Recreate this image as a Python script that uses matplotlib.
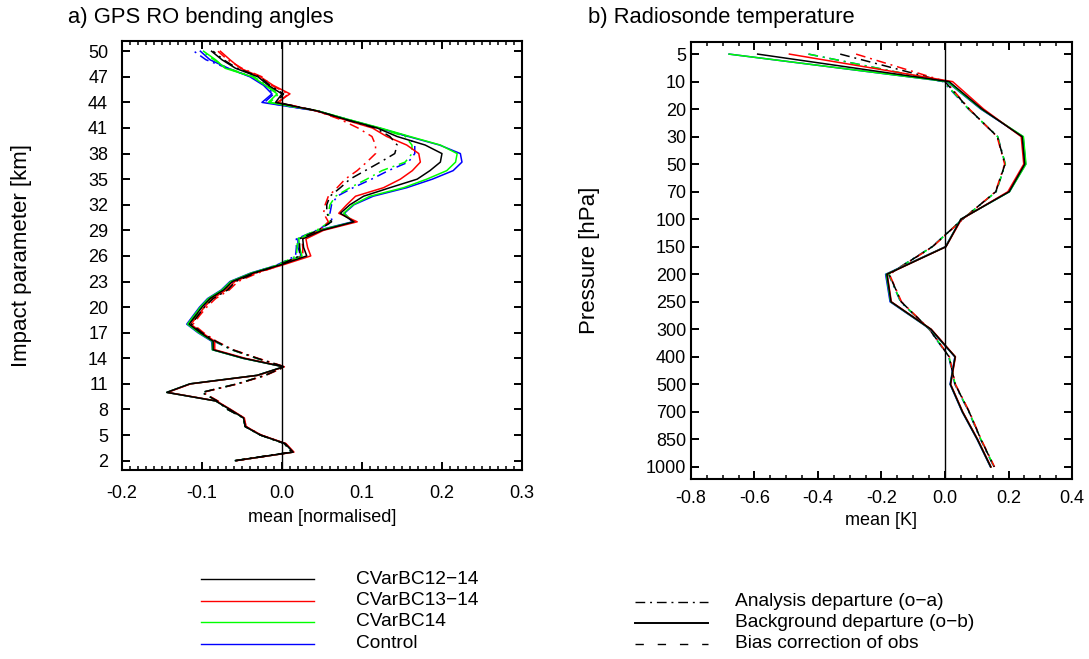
import numpy as np
import matplotlib
matplotlib.use("Agg")
import matplotlib.pyplot as plt
from matplotlib.ticker import MultipleLocator, FormatStrFormatter

plt.rcParams['font.family'] = ['Liberation Sans', 'DejaVu Sans']
plt.rcParams['lines.scale_dashes'] = False

# ---- panel a: GPS RO bending angles, impact parameter 2..50 km ----
impact_km = np.arange(2, 51)

ob_12_14 = [-0.058, 0.014, 0.004, -0.027, -0.046, -0.048, -0.065, -0.083, -0.144, -0.115,
            -0.031, 0.002, -0.048, -0.086, -0.086, -0.102, -0.116, -0.108, -0.100, -0.090,
            -0.073, -0.062, -0.036, 0.000, 0.031, 0.027, 0.026, 0.050, 0.090, 0.073,
            0.085, 0.102, 0.135, 0.169, 0.185, 0.198, 0.200, 0.179, 0.144, 0.119,
            0.080, 0.044, -0.008, 0.000, -0.017, -0.030, -0.058, -0.075, -0.088]
ob_13_14 = [-0.057, 0.015, 0.005, -0.026, -0.045, -0.047, -0.064, -0.082, -0.143, -0.114,
            -0.030, 0.003, -0.046, -0.084, -0.084, -0.100, -0.114, -0.105, -0.097, -0.087,
            -0.070, -0.059, -0.033, 0.003, 0.036, 0.032, 0.030, 0.052, 0.094, 0.071,
            0.081, 0.092, 0.127, 0.148, 0.163, 0.173, 0.171, 0.156, 0.131, 0.113,
            0.077, 0.043, -0.006, 0.010, -0.011, -0.027, -0.052, -0.065, -0.077]
ob_14 = [-0.058, 0.014, 0.004, -0.027, -0.046, -0.048, -0.065, -0.083, -0.144, -0.115,
         -0.031, 0.002, -0.049, -0.087, -0.087, -0.104, -0.118, -0.110, -0.102, -0.092,
         -0.075, -0.064, -0.038, -0.002, 0.025, 0.022, 0.021, 0.046, 0.090, 0.077,
         0.089, 0.110, 0.152, 0.181, 0.206, 0.217, 0.219, 0.198, 0.160, 0.123,
         0.083, 0.045, -0.017, -0.006, -0.021, -0.037, -0.071, -0.083, -0.098]
ob_ctrl = [-0.058, 0.014, 0.004, -0.027, -0.046, -0.048, -0.065, -0.083, -0.144, -0.115,
           -0.031, 0.002, -0.049, -0.087, -0.088, -0.105, -0.119, -0.111, -0.103, -0.093,
           -0.076, -0.065, -0.039, -0.003, 0.024, 0.020, 0.020, 0.045, 0.088, 0.078,
           0.090, 0.114, 0.156, 0.188, 0.214, 0.225, 0.223, 0.197, 0.158, 0.121,
           0.082, 0.044, -0.025, -0.0125, -0.023, -0.040, -0.067, -0.090, -0.102]

oa_12_14 = [-0.058, 0.012, 0.003, -0.027, -0.046, -0.048, -0.068, -0.081, -0.100, -0.056,
            -0.021, 0.003, -0.031, -0.062, -0.083, -0.100, -0.113, -0.105, -0.097, -0.086,
            -0.068, -0.058, -0.033, -0.002, 0.022, 0.022, 0.022, 0.045, 0.062, 0.056,
            0.056, 0.060, 0.073, 0.085, 0.104, 0.123, 0.141, 0.144, 0.135, 0.117,
            0.079, 0.045, -0.006, 0.002, -0.015, -0.028, -0.056, -0.073, -0.086]
oa_13_14 = [-0.057, 0.013, 0.004, -0.026, -0.045, -0.047, -0.067, -0.080, -0.099, -0.055,
            -0.020, 0.004, -0.030, -0.061, -0.082, -0.098, -0.111, -0.103, -0.094, -0.083,
            -0.066, -0.055, -0.030, 0.001, 0.026, 0.026, 0.025, 0.047, 0.058, 0.052,
            0.054, 0.058, 0.069, 0.079, 0.094, 0.106, 0.117, 0.117, 0.1125, 0.095,
            0.073, 0.043, -0.004, 0.008, -0.013, -0.025, -0.050, -0.068, -0.080]
oa_14 = [-0.058, 0.012, 0.003, -0.027, -0.046, -0.048, -0.068, -0.081, -0.100, -0.056,
         -0.021, 0.003, -0.032, -0.063, -0.084, -0.102, -0.115, -0.107, -0.099, -0.088,
         -0.070, -0.060, -0.035, -0.004, 0.018, 0.019, 0.019, 0.043, 0.060, 0.058,
         0.060, 0.067, 0.085, 0.106, 0.125, 0.154, 0.1625, 0.1625, 0.154, 0.120,
         0.082, 0.045, -0.015, -0.004, -0.019, -0.035, -0.068, -0.085, -0.100]
oa_ctrl = [-0.058, 0.012, 0.003, -0.027, -0.046, -0.048, -0.068, -0.081, -0.100, -0.056,
           -0.021, 0.003, -0.032, -0.063, -0.085, -0.103, -0.117, -0.109, -0.100, -0.089,
           -0.071, -0.061, -0.036, -0.005, 0.017, 0.018, 0.018, 0.043, 0.063, 0.060,
           0.062, 0.069, 0.089, 0.112, 0.133, 0.158, 0.166, 0.166, 0.158, 0.121,
           0.082, 0.044, -0.022, -0.010, -0.021, -0.038, -0.068, -0.095, -0.110]

# ---- panel b: radiosonde temperature ----
pressure_levels = [5, 10, 20, 30, 50, 70, 100, 150, 200, 250, 300, 400, 500, 700, 850, 1000]

rs_ob_12_14 = [-0.59, 0.013, 0.117, 0.243, 0.251, 0.202, 0.050, 0.003, -0.183, -0.170,
               -0.044, 0.032, 0.017, 0.055, 0.102, 0.144]
rs_ob_13_14 = [-0.49, 0.024, 0.122, 0.240, 0.248, 0.198, 0.052, 0.003, -0.182, -0.169,
               -0.043, 0.033, 0.018, 0.056, 0.103, 0.145]
rs_ob_14 = [-0.68, 0.008, 0.115, 0.247, 0.255, 0.203, 0.050, 0.002, -0.185, -0.171,
            -0.045, 0.032, 0.017, 0.055, 0.102, 0.144]
rs_ob_ctrl = [-0.68, 0.006, 0.113, 0.246, 0.254, 0.203, 0.050, 0.001, -0.187, -0.173,
              -0.046, 0.031, 0.016, 0.054, 0.101, 0.143]

rs_oa_12_14 = [-0.33, 0.000, 0.076, 0.165, 0.189, 0.160, 0.055, -0.040, -0.176, -0.138,
               -0.049, 0.013, 0.032, 0.076, 0.113, 0.155]
rs_oa_13_14 = [-0.28, 0.003, 0.077, 0.164, 0.188, 0.159, 0.056, -0.039, -0.175, -0.137,
               -0.048, 0.014, 0.033, 0.077, 0.114, 0.156]
rs_oa_14 = [-0.43, -0.004, 0.075, 0.166, 0.190, 0.161, 0.055, -0.040, -0.177, -0.139,
            -0.049, 0.013, 0.032, 0.076, 0.113, 0.155]
rs_oa_ctrl = [-0.43, -0.006, 0.074, 0.166, 0.190, 0.161, 0.055, -0.041, -0.178, -0.140,
              -0.050, 0.012, 0.031, 0.075, 0.112, 0.154]

exp_names = ['CVarBC12\u221214', 'CVarBC13\u221214', 'CVarBC14', 'Control']
exp_colors = ['black', '#ff0000', '#00ff00', '#0000ff']

DASHDOT = (0, (7, 3.5, 1.4, 3.5))
DASHED = (0, (6, 10))
LW = 1.1

fig = plt.figure(figsize=(10.89, 6.59), dpi=100)
ax_a = fig.add_axes([0.112, 0.2868, 0.3673, 0.651])
ax_b = fig.add_axes([0.6345, 0.2727, 0.3499, 0.664])

# panel a
ob_a = [ob_12_14, ob_13_14, ob_14, ob_ctrl]
oa_a = [oa_12_14, oa_13_14, oa_14, oa_ctrl]
for i in [3, 2, 1, 0]:
    ax_a.plot(oa_a[i], impact_km, color=exp_colors[i], lw=LW, linestyle=DASHDOT)
    ax_a.plot(ob_a[i], impact_km, color=exp_colors[i], lw=LW)
ax_a.axvline(0, color='black', lw=1.0)
ax_a.set_xlim(-0.2, 0.3)
ax_a.set_ylim(0.9, 51.2)
ax_a.set_yticks(np.arange(2, 51, 3))
ax_a.xaxis.set_major_locator(MultipleLocator(0.1))
ax_a.xaxis.set_minor_locator(MultipleLocator(0.01))
ax_a.xaxis.set_major_formatter(FormatStrFormatter('%.1f'))
ax_a.set_xlabel('mean [normalised]', fontsize=13)
ax_a.xaxis.set_label_coords(0.5, -0.09)
ax_a.set_ylabel('Impact parameter [km]', fontsize=16)
ax_a.yaxis.set_label_coords(-0.225, 0.5)
ax_a.tick_params(axis='y', pad=10)
ax_a.tick_params(axis='x', pad=10.5)

# panel b
y_idx = np.arange(len(pressure_levels))
ob_b = [rs_ob_12_14, rs_ob_13_14, rs_ob_14, rs_ob_ctrl]
oa_b = [rs_oa_12_14, rs_oa_13_14, rs_oa_14, rs_oa_ctrl]
for i in [3, 2, 1, 0]:
    ax_b.plot(oa_b[i], y_idx, color=exp_colors[i], lw=LW, linestyle=DASHDOT)
for i in [3, 2, 1, 0]:
    ax_b.plot(ob_b[i], y_idx, color=exp_colors[i], lw=LW)
ax_b.axvline(0, color='black', lw=1.0)
ax_b.set_xlim(-0.8, 0.4)
ax_b.set_ylim(15.45, -0.45)
ax_b.set_yticks(y_idx)
ax_b.set_yticklabels([str(p) for p in pressure_levels])
ax_b.xaxis.set_major_locator(MultipleLocator(0.2))
ax_b.xaxis.set_minor_locator(MultipleLocator(0.05))
ax_b.xaxis.set_major_formatter(FormatStrFormatter('%.1f'))
ax_b.set_xlabel('mean [K]', fontsize=13)
ax_b.xaxis.set_label_coords(0.5, -0.075)
ax_b.set_ylabel('Pressure [hPa]', fontsize=16)
ax_b.yaxis.set_label_coords(-0.24, 0.5)
ax_b.tick_params(axis='y', pad=3.5)
ax_b.tick_params(axis='x', pad=8)

for ax in (ax_a, ax_b):
    for s in ax.spines.values():
        s.set_linewidth(1.5)
    ax.tick_params(which='both', direction='in', top=True, right=True, labelsize=13)
    ax.tick_params(which='major', length=6, width=1.4)
    ax.tick_params(which='minor', length=3, width=1.1)

fig.text(68 / 1089, 1 - 18 / 659, 'a) GPS RO bending angles', fontsize=15.8, va='center', ha='left')
fig.text(588 / 1089, 1 - 18 / 659, 'b) Radiosonde temperature', fontsize=15.8, va='center', ha='left')

# legends drawn in figure pixel coordinates
leg = fig.add_axes([0, 0, 1, 1])
leg.set_xlim(0, 1089)
leg.set_ylim(659, 0)
leg.axis('off')
leg.patch.set_alpha(0)
for i, name in enumerate(exp_names):
    yy = 579 + i * 21.5
    leg.plot([201, 314], [yy, yy], color=exp_colors[i], lw=1.0)
    leg.text(356, yy, name, fontsize=13.8, va='center', ha='left')
styles = [('Analysis departure (o\u2212a)', DASHDOT, 1.0),
          ('Background departure (o\u2212b)', '-', 1.4),
          ('Bias correction of obs', DASHED, 1.0)]
for i, (name, ls, w) in enumerate(styles):
    yy = 601.5 + i * 21
    leg.plot([635, 708], [yy, yy], color='black', lw=w, linestyle=ls)
    leg.text(735, yy, name, fontsize=13.8, va='center', ha='left')

fig.savefig('out.png', dpi=100)
